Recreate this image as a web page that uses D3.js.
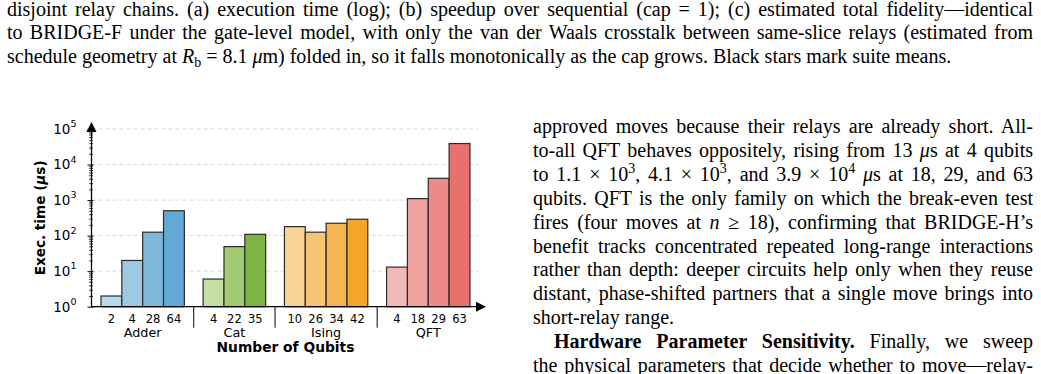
<!DOCTYPE html>
<html lang="en">
<head>
<meta charset="UTF-8">
<title>Execution time per benchmark family</title>
<script src="https://d3js.org/d3.v7.min.js"></script>
<style>
  body { margin: 0; background: #fff; }
  svg { display: block; }
</style>
</head>
<body>
<div id="page"></div>
<script>
// chart data
const families = ["Adder", "Cat", "Ising", "QFT"];
const qubits = [[2, 4, 28, 64], [4, 22, 35], [10, 26, 34, 42], [4, 18, 29, 63]];
const execTime = [[2.0, 20, 125, 500], [6.0, 49, 109], [179, 125, 223, 289], [13, 1100, 4100, 39000]];
const familyColors = [
  ["#bcd8ec", "#9dcae3", "#80b8db", "#63a9d5"],
  ["#c3dfa3", "#a0cb72", "#7db444"],
  ["#f9d496", "#f7c571", "#f5b550", "#f4a628"],
  ["#f3b9b6", "#efa19e", "#eb8a86", "#e8706d"]
];
const yTicks = [1, 10, 100, 1e3, 1e4, 1e5];
const xLabel = "Number of Qubits";

// surrounding text (caption above, column text on the right)
const captionLines = [
  "disjoint relay chains. (a) execution time (log); (b) speedup over sequential (cap = 1); (c) estimated total fidelity—identical",
  "to BRIDGE-F under the gate-level model, with only the van der Waals crosstalk between same-slice relays (estimated from",
  "schedule geometry at *R*_{b} = 8.1 *μ*m) folded in, so it falls monotonically as the cap grows. Black stars mark suite means."
];
const columnLines = [
  "approved moves because their relays are already short. All-",
  "to-all QFT behaves oppositely, rising from 13 *μ*s at 4 qubits",
  "to 1.1 × 10^{3}, 4.1 × 10^{3}, and 3.9 × 10^{4} *μ*s at 18, 29, and 63",
  "qubits. QFT is the only family on which the break-even test",
  "fires (four moves at *n* ≥ 18), confirming that BRIDGE-H’s",
  "benefit tracks concentrated repeated long-range interactions",
  "rather than depth: deeper circuits help only when they reuse",
  "distant, phase-shifted partners that a single move brings into",
  "short-relay range.",
  "**Hardware Parameter Sensitivity.** Finally, we sweep",
  "the physical parameters that decide whether to move—relay-"
];

const W = 1041, H = 374;
const svg = d3.select("#page").append("svg")
  .attr("width", W).attr("height", H)
  .style("font-family", "'DejaVu Sans', sans-serif");

// ---- bar positions: consecutive slots, 0.9 slot gap between families
const gapSlots = 0.9;
const bars = [];
let slot = 0;
families.forEach((f, g) => {
  qubits[g].forEach((q, j) => {
    bars.push({ family: f, g, j, q, v: execTime[g][j], pos: slot + g * gapSlots, color: familyColors[g][j] });
    slot++;
  });
});
const lastPos = bars[bars.length - 1].pos;

const x = d3.scaleLinear().domain([-0.955, lastPos + 1.27]).range([91.5, 486]);
const y = d3.scaleLog().domain([1, 1e5]).range([306.7, 129]);
const bw = x(0.5) - x(-0.5);
const x0 = x.range()[0], y0 = y.range()[0];

// gridlines
svg.append("g").selectAll("line")
  .data(yTicks.slice(1))
  .join("line")
  .attr("x1", x0).attr("x2", x(lastPos + 0.9))
  .attr("y1", d => y(d)).attr("y2", d => y(d))
  .attr("stroke", "#d4d4d4").attr("stroke-width", 0.9)
  .attr("stroke-dasharray", "4,3");

// bars
svg.append("g").selectAll("rect")
  .data(bars)
  .join("rect")
  .attr("x", d => x(d.pos) - bw / 2)
  .attr("width", bw)
  .attr("y", d => y(d.v))
  .attr("height", d => y0 - y(d.v))
  .attr("fill", d => d.color)
  .attr("stroke", "#2b2b2b")
  .attr("stroke-width", 1.2);

// y axis: major + minor ticks via d3 axes
const minor = [];
for (let e = 0; e < 5; e++) for (let k = 2; k <= 9; k++) minor.push(k * Math.pow(10, e));

const yAxisMajor = svg.append("g")
  .attr("transform", `translate(${x0},0)`)
  .call(d3.axisLeft(y).tickValues(yTicks).tickFormat("").tickSizeInner(4).tickSizeOuter(0));
yAxisMajor.select(".domain").remove();
yAxisMajor.selectAll(".tick line").attr("x2", -4).attr("x1", 2).attr("stroke", "#000").attr("stroke-width", 1);

const yAxisMinor = svg.append("g")
  .attr("transform", `translate(${x0},0)`)
  .call(d3.axisLeft(y).tickValues(minor).tickFormat("").tickSizeInner(2.5).tickSizeOuter(0));
yAxisMinor.select(".domain").remove();
yAxisMinor.selectAll(".tick line").attr("x2", -2.5).attr("x1", 1.5).attr("stroke", "#000").attr("stroke-width", 0.7);

// y tick labels as 10^n
const yLab = svg.append("g").selectAll("text")
  .data(yTicks)
  .join("text")
  .attr("x", x0 - 15)
  .attr("y", d => y(d) + 4.8)
  .attr("text-anchor", "end")
  .attr("font-size", 13.5)
  .attr("fill", "#000");
yLab.append("tspan").text("10");
yLab.append("tspan").attr("dy", -6.5).attr("font-size", 9.5).text(d => Math.round(Math.log10(d)));

// spines with arrow heads
svg.append("line")
  .attr("x1", x0).attr("x2", x0)
  .attr("y1", y0).attr("y2", y(1e5) - 1)
  .attr("stroke", "#000").attr("stroke-width", 1.3);
svg.append("path")
  .attr("d", `M${x0},${y(1e5) - 7} L${x0 - 5},${y(1e5) + 3} L${x0 + 5},${y(1e5) + 3} Z`)
  .attr("fill", "#000");
const xEnd = x.range()[1];
svg.append("line")
  .attr("x1", x0).attr("x2", xEnd - 8)
  .attr("y1", y0).attr("y2", y0)
  .attr("stroke", "#000").attr("stroke-width", 1.3);
svg.append("path")
  .attr("d", `M${xEnd},${y0} L${xEnd - 10},${y0 - 5} L${xEnd - 10},${y0 + 5} Z`)
  .attr("fill", "#000");

// x tick labels (qubit counts)
svg.append("g").selectAll("text")
  .data(bars)
  .join("text")
  .attr("x", d => x(d.pos))
  .attr("y", y0 + 16.5)
  .attr("text-anchor", "middle")
  .attr("font-size", 11.5)
  .text(d => d.q);

// family names and separators
const groups = families.map((f, g) => {
  const bs = bars.filter(b => b.g === g);
  return { f, g, mid: (bs[0].pos + bs[bs.length - 1].pos) / 2, first: bs[0].pos, last: bs[bs.length - 1].pos };
});
svg.append("g").selectAll("text")
  .data(groups)
  .join("text")
  .attr("x", d => x(d.mid))
  .attr("y", y0 + 30.5)
  .attr("text-anchor", "middle")
  .attr("font-size", 12.8)
  .text(d => d.f);

svg.append("g").selectAll("line")
  .data(groups.slice(1))
  .join("line")
  .attr("x1", d => x(d.first - 0.5 - gapSlots / 2))
  .attr("x2", d => x(d.first - 0.5 - gapSlots / 2))
  .attr("y1", y0).attr("y2", y0 + 21)
  .attr("stroke", "#000").attr("stroke-width", 1);

// axis titles
svg.append("text")
  .attr("x", x((bars[0].pos + lastPos) / 2))
  .attr("y", y0 + 45.5)
  .attr("text-anchor", "middle")
  .attr("font-size", 13.8).attr("font-weight", "bold")
  .text(xLabel);

const yTitle = svg.append("text")
  .attr("transform", `translate(45,${(y(1) + y(1e5)) / 2}) rotate(-90)`)
  .attr("text-anchor", "middle")
  .attr("font-size", 13.6).attr("font-weight", "bold");
yTitle.append("tspan").text("Exec. time (");
yTitle.append("tspan").attr("font-style", "italic").text("μ");
yTitle.append("tspan").text("s)");

// ---- serif text blocks, justified by word-spacing
function richLine(parent, str, px, py, size) {
  const t = parent.append("text")
    .attr("x", px).attr("y", py)
    .attr("font-family", "'Liberation Serif', 'Times New Roman', serif")
    .attr("font-size", size).attr("fill", "#000");
  const parts = str.split(/(\^\{[^}]*\}|_\{[^}]*\}|\*\*[^*]+\*\*|\*[^*]+\*)/).filter(s => s.length);
  let shift = 0;
  parts.forEach(p => {
    const s = t.append("tspan");
    let dy = 0;
    if (p.startsWith("^{")) { s.text(p.slice(2, -1)).attr("font-size", size * 0.7); dy = -8 - shift; shift = -8; }
    else if (p.startsWith("_{")) { s.text(p.slice(2, -1)).attr("font-size", size * 0.7); dy = 4 - shift; shift = 4; }
    else {
      dy = -shift; shift = 0;
      if (p.startsWith("**")) s.text(p.slice(2, -2)).attr("font-weight", "bold");
      else if (p.startsWith("*")) s.text(p.slice(1, -1)).attr("font-style", "italic");
      else s.text(p);
    }
    if (dy) s.attr("dy", dy);
  });
  return t;
}
function justify(t, width) {
  const n = (t.text().match(/ /g) || []).length;
  const w = t.node().getComputedTextLength();
  if (n) t.attr("word-spacing", (width - w) / n);
}

const textSize = 20;
const textG = svg.append("g");
const capBase = [15.8, 39.3, 62.8];
captionLines.forEach((s, i) => {
  const t = richLine(textG, s, 7, capBase[i], textSize);
  if (i < captionLines.length - 1) justify(t, 1033 - 7);
});

const colLeft = 533, colRight = 1033, colTop = 133, lead = 23.9;
columnLines.forEach((s, i) => {
  const indent = i === 9 ? 21 : 0;
  const t = richLine(textG, s, colLeft + indent, colTop + i * lead, textSize);
  if (i !== 8) justify(t, colRight - colLeft - indent);
});
</script>
</body>
</html>
